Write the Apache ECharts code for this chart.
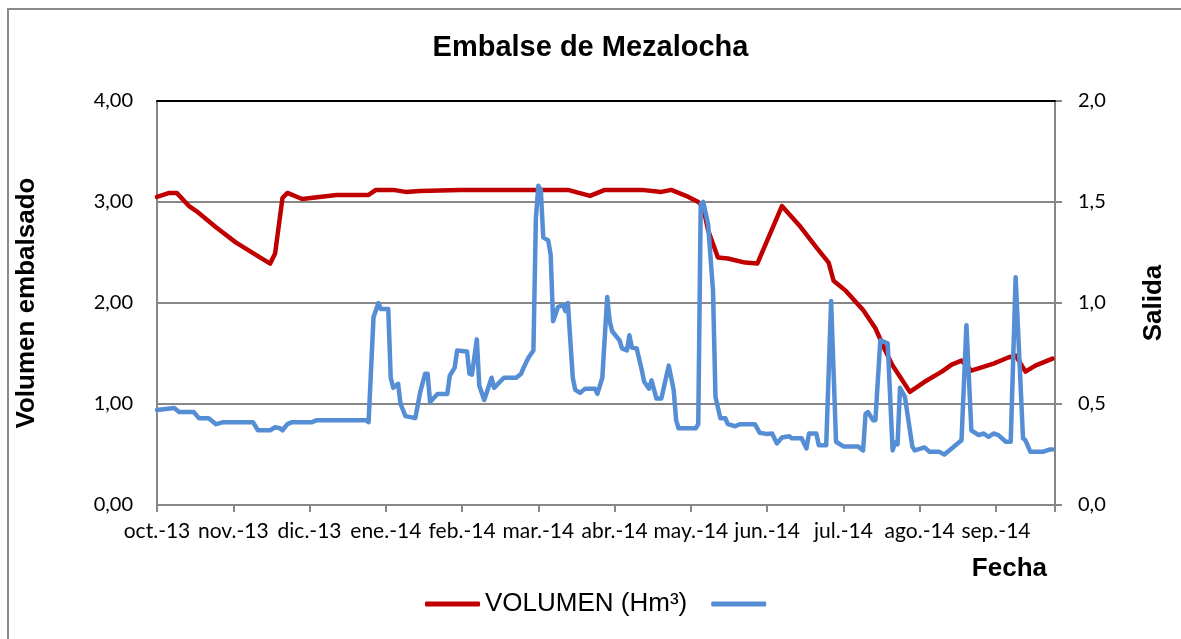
<!DOCTYPE html>
<html>
<head>
<meta charset="utf-8">
<script src="https://cdn.jsdelivr.net/npm/echarts@6/dist/echarts.min.js"></script>
<style>
html,body{margin:0;padding:0;background:#fff;}
#chart{width:1181px;height:639px;}
</style>
</head>
<body>
<div id="chart"></div>
<script>
// Month tick labels (one every 31 days, starting 1 Oct 2013)
const monthLabels = ['oct.-13','nov.-13','dic.-13','ene.-14','feb.-14','mar.-14','abr.-14','may.-14','jun.-14','jul.-14','ago.-14','sep.-14'];

// VOLUMEN (Hm³): day index since 1 Oct 2013 and value (left axis)
const volDay = [0,5,8,13,16,24,32,42,46,48,51,53,59,66,73,86,89,96,101,107,123,155,167,176,182,197,205,209,216,220,222,224,228,232,239,244,254,261,268,273,275,280,287,292,296,299,302,306,312,319,323,327,331,340,346,349,353,357,364];
const volValue = [3.05,3.09,3.09,2.96,2.91,2.75,2.60,2.45,2.39,2.49,3.04,3.09,3.03,3.05,3.07,3.07,3.12,3.12,3.10,3.11,3.12,3.12,3.12,3.06,3.12,3.12,3.10,3.12,3.05,3.00,2.95,2.72,2.45,2.44,2.40,2.39,2.96,2.77,2.55,2.40,2.22,2.12,1.93,1.75,1.53,1.38,1.27,1.12,1.22,1.32,1.39,1.43,1.33,1.40,1.46,1.48,1.32,1.38,1.45];

// Salida: day index since 1 Oct 2013 and value (right axis)
const outDay = [0,7,9,15,17,21,24,27,39,41,46,48,50,51,53,55,63,65,85,86,88,90,91,94,95,96,98,99,101,105,107,109,110,111,114,118,119,121,122,126,127,128,130,131,133,136,137,141,146,148,149,151,153,154,155,156,157,159,160,161,163,165,166,167,169,170,172,174,178,179,181,183,184,185,188,189,191,192,193,195,197,198,200,201,203,205,208,210,211,212,219,220,221,222,224,226,227,229,231,232,235,237,243,245,248,250,252,254,257,258,262,264,265,268,269,272,274,276,279,285,287,288,289,291,292,294,297,299,300,301,302,304,307,308,312,314,318,320,323,327,329,331,334,336,338,340,342,345,347,349,352,353,355,360,363,364];
const outValue = [0.47,0.48,0.46,0.46,0.43,0.43,0.40,0.41,0.41,0.37,0.37,0.385,0.38,0.37,0.40,0.41,0.41,0.42,0.42,0.41,0.93,1.00,0.97,0.97,0.63,0.58,0.60,0.50,0.44,0.43,0.56,0.65,0.65,0.51,0.55,0.55,0.64,0.68,0.765,0.76,0.65,0.645,0.82,0.59,0.52,0.63,0.58,0.63,0.63,0.65,0.68,0.73,0.765,1.42,1.58,1.56,1.325,1.31,1.24,0.91,0.98,0.99,0.96,1.00,0.63,0.57,0.555,0.576,0.576,0.55,0.63,1.03,0.91,0.86,0.815,0.775,0.765,0.84,0.78,0.775,0.67,0.61,0.576,0.617,0.527,0.527,0.69,0.57,0.42,0.38,0.38,0.40,1.49,1.50,1.39,1.06,0.535,0.43,0.43,0.40,0.39,0.40,0.40,0.357,0.352,0.354,0.305,0.334,0.34,0.33,0.33,0.28,0.354,0.354,0.296,0.296,1.01,0.313,0.29,0.29,0.27,0.45,0.46,0.42,0.42,0.815,0.80,0.27,0.31,0.30,0.58,0.535,0.29,0.27,0.285,0.263,0.263,0.25,0.28,0.32,0.89,0.37,0.346,0.354,0.337,0.354,0.346,0.313,0.313,1.127,0.33,0.32,0.263,0.263,0.275,0.275];

const volData = volDay.map((d, i) => [d, volValue[i]]);
const outData = outDay.map((d, i) => [d, outValue[i]]);

const GRAY = '#878787';
const chart = echarts.init(document.getElementById('chart'));
chart.setOption({
  animation: false,
  backgroundColor: '#fff',
  title: {
    text: 'Embalse de Mezalocha',
    left: 'center',
    top: 28,
    textStyle: {fontFamily: 'Liberation Sans', fontWeight: 'bold', fontSize: 29, color: '#000'}
  },
  legend: {
    left: 420,
    top: 586,
    itemWidth: 55,
    itemHeight: 5,
    itemGap: 24,
    icon: 'roundRect',
    textStyle: {fontFamily: 'Liberation Sans', fontSize: 26, color: '#000'},
    data: ['VOLUMEN (Hm³)', ' ']
  },
  grid: {left: 157, right: 126, top: 101, bottom: 134, containLabel: false},
  xAxis: [{
    type: 'value',
    min: 0,
    max: 365,
    interval: 31,
    axisLine: {onZero: false, lineStyle: {color: GRAY, width: 2}},
    axisTick: {show: true, length: 7, lineStyle: {color: GRAY, width: 2}},
    axisLabel: {
      margin: 16,
      fontFamily: 'Lato',
      fontSize: 21,
      color: '#000',
      formatter: v => (v % 31 === 0 && v / 31 < monthLabels.length) ? monthLabels[v / 31] : ''
    },
    splitLine: {show: false}
  }, {
    type: 'value',
    position: 'top',
    min: 0,
    max: 365,
    z: 5,
    axisLine: {show: true, onZero: false, lineStyle: {color: '#000', width: 2}},
    axisTick: {show: false},
    axisLabel: {show: false},
    splitLine: {show: false}
  }],
  yAxis: [{
    type: 'value',
    min: 0,
    max: 4,
    interval: 1,
    name: 'Volumen embalsado',
    nameLocation: 'middle',
    nameRotate: 90,
    nameGap: 117,
    nameTextStyle: {fontFamily: 'Liberation Sans', fontWeight: 'bold', fontSize: 26, color: '#000'},
    axisLine: {show: true, onZero: false, lineStyle: {color: GRAY, width: 2}},
    axisTick: {show: false},
    axisLabel: {
      margin: 24,
      fontFamily: 'Lato',
      fontSize: 20,
      color: '#000',
      formatter: v => v.toFixed(2).replace('.', ',')
    },
    splitLine: {show: true, showMaxLine: false, showMinLine: false, lineStyle: {color: GRAY, width: 2}}
  }, {
    type: 'value',
    min: 0,
    max: 2,
    interval: 0.5,
    name: 'Salida',
    nameLocation: 'middle',
    nameRotate: 90,
    nameGap: 86,
    nameTextStyle: {fontFamily: 'Liberation Sans', fontWeight: 'bold', fontSize: 26, color: '#000'},
    axisLine: {show: true, onZero: false, lineStyle: {color: GRAY, width: 2}},
    axisTick: {show: true, length: 7, lineStyle: {color: GRAY, width: 2}},
    axisLabel: {
      margin: 23,
      fontFamily: 'Lato',
      fontSize: 20,
      color: '#000',
      formatter: v => v.toFixed(1).replace('.', ',')
    },
    splitLine: {show: false}
  }],
  graphic: [{
    type: 'rect',
    shape: {x: 8, y: 9, width: 1250, height: 700},
    style: {fill: 'none', stroke: '#8a8a8a', lineWidth: 2},
    silent: true
  }, {
    type: 'text',
    right: 1181 - 1047,
    top: 556,
    style: {text: 'Fecha', fontFamily: 'Liberation Sans', fontWeight: 'bold', fontSize: 26, fill: '#000'}
  }],
  series: [{
    name: 'VOLUMEN (Hm³)',
    type: 'line',
    xAxisIndex: 0,
    yAxisIndex: 0,
    data: volData,
    showSymbol: false,
    lineStyle: {color: '#C00000', width: 4.5, cap: 'round', join: 'round'},
    itemStyle: {color: '#C00000'}
  }, {
    name: ' ',
    type: 'line',
    xAxisIndex: 0,
    yAxisIndex: 1,
    data: outData,
    showSymbol: false,
    lineStyle: {color: '#558ED5', width: 4.5, cap: 'round', join: 'round'},
    itemStyle: {color: '#558ED5'}
  }]
});
</script>
</body>
</html>
